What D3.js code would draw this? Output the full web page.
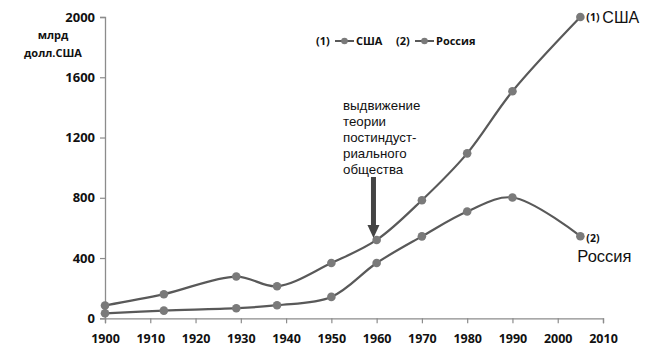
<!DOCTYPE html>
<html><head><meta charset="utf-8">
<script src="https://cdn.jsdelivr.net/npm/d3@7"></script>
<style>
body{margin:0;background:#fff;}
svg{display:block;}
</style></head>
<body>
<svg id="chart" width="650" height="357"></svg>
<script>
const years = [1900, 1913, 1929, 1938, 1950, 1960, 1970, 1980, 1990, 2005];
const usa = [85, 160, 277, 213, 367, 520, 784, 1095, 1507, 2000];
const russia = [33, 51, 67, 87, 142, 367, 544, 709, 802, 545];
const xTicks = [1900, 1910, 1920, 1930, 1940, 1950, 1960, 1970, 1980, 1990, 2000, 2010];
const yTicks = [0, 400, 800, 1200, 1600, 2000];
const seriesNames = ["США", "Россия"];
const annotation = ["выдвижение", "теории", "постиндуст-", "риального", "общества"];
const annotationYear = 1959.3;

const svg = d3.select("#chart");
const x = d3.scaleLinear().domain([1900, 2010]).range([105, 603]);
const y = d3.scaleLinear().domain([0, 2000]).range([318.3, 17]);

const axisColor = "#8c8c8c";
const lineColor = "#595959";
const dotColor = "#7a7a7a";
const boldFont = "'Open Sans', sans-serif";

// X axis
const xAxis = svg.append("g").attr("transform", `translate(0,${y(0)})`)
  .call(d3.axisBottom(x).tickValues(xTicks).tickFormat(d3.format("d")).tickSizeOuter(0).tickSize(5).tickPadding(11));
xAxis.select(".domain").attr("stroke", axisColor).attr("stroke-width", 1.3);
xAxis.selectAll(".tick line").attr("stroke", axisColor).attr("stroke-width", 1.2);
xAxis.selectAll(".tick text").attr("font-family", boldFont).attr("font-weight", "bold")
  .attr("font-size", 12.5).attr("fill", "#111");

// Y axis
const yAxis = svg.append("g").attr("transform", `translate(${x(1900)},0)`)
  .call(d3.axisLeft(y).tickValues(yTicks).tickFormat(d3.format("d")).tickSizeOuter(0).tickSize(5).tickPadding(5));
yAxis.select(".domain").attr("stroke", axisColor).attr("stroke-width", 1.3);
yAxis.selectAll(".tick line").attr("stroke", axisColor).attr("stroke-width", 1.2);
yAxis.selectAll(".tick text").attr("font-family", boldFont).attr("font-weight", "bold")
  .attr("font-size", 13).attr("fill", "#111");

// Y unit label
svg.append("text").attr("x", 53).attr("y", 39).attr("text-anchor", "middle")
  .attr("font-family", boldFont).attr("font-weight", "bold").attr("font-size", 11).attr("fill", "#111").text("млрд");
svg.append("text").attr("x", 53).attr("y", 57).attr("text-anchor", "middle")
  .attr("font-family", boldFont).attr("font-weight", "bold").attr("font-size", 11).attr("fill", "#111").text("долл.США");

// Lines
const line = d3.line().x((d, i) => x(years[i])).y(d => y(d)).curve(d3.curveCatmullRom.alpha(0.5));
[usa, russia].forEach(s => {
  svg.append("path").attr("d", line(s)).attr("fill", "none").attr("stroke", lineColor).attr("stroke-width", 2.2);
  svg.append("g").selectAll("circle").data(s).join("circle")
    .attr("cx", (d, i) => x(years[i])).attr("cy", d => y(d)).attr("r", 4.3).attr("fill", dotColor);
});

// Legend
const lg = svg.append("g").attr("font-family", boldFont).attr("font-weight", "bold").attr("font-size", 11).attr("fill", "#111");
const legendItems = [{num: "(1)", name: seriesNames[0], x0: 316}, {num: "(2)", name: seriesNames[1], x0: 396}];
legendItems.forEach(it => {
  lg.append("text").attr("x", it.x0).attr("y", 45).text(it.num);
  lg.append("line").attr("x1", it.x0 + 19).attr("x2", it.x0 + 38).attr("y1", 41).attr("y2", 41)
    .attr("stroke", lineColor).attr("stroke-width", 2);
  lg.append("circle").attr("cx", it.x0 + 28.5).attr("cy", 41).attr("r", 3.3).attr("fill", dotColor);
  lg.append("text").attr("x", it.x0 + 40).attr("y", 45).text(it.name);
});

// Annotation text
const ann = svg.append("text").attr("font-family", "'Liberation Sans', Arial, sans-serif")
  .attr("font-size", 13.3).attr("fill", "#111");
annotation.forEach((t, i) => {
  ann.append("tspan").attr("x", 343).attr("y", 110 + i * 16).text(t);
});

// Arrow
const ax = x(annotationYear);
svg.append("rect").attr("x", ax - 2.5).attr("y", 177).attr("width", 5).attr("height", 49).attr("fill", "#444");
svg.append("path").attr("d", `M${ax - 6},225 L${ax + 6},225 L${ax},238 Z`).attr("fill", "#444");

// End labels
const endIdx = years.length - 1;
svg.append("text").attr("x", x(years[endIdx]) + 6).attr("y", y(usa[endIdx]) + 4)
  .attr("font-family", boldFont).attr("font-weight", "bold").attr("font-size", 10.5).attr("fill", "#111").text("(1)");
svg.append("text").attr("x", x(years[endIdx]) + 22).attr("y", y(usa[endIdx]) + 6)
  .attr("font-family", "'Liberation Sans', Arial, sans-serif").attr("font-size", 16).attr("fill", "#111").text("США");
svg.append("text").attr("x", x(years[endIdx]) + 6).attr("y", y(russia[endIdx]) + 6)
  .attr("font-family", boldFont).attr("font-weight", "bold").attr("font-size", 10.5).attr("fill", "#111").text("(2)");
svg.append("text").attr("x", x(years[endIdx]) - 3).attr("y", y(russia[endIdx]) + 26)
  .attr("font-family", "'Liberation Sans', Arial, sans-serif").attr("font-size", 16.5).attr("fill", "#111").text("Россия");
</script>
</body></html>
